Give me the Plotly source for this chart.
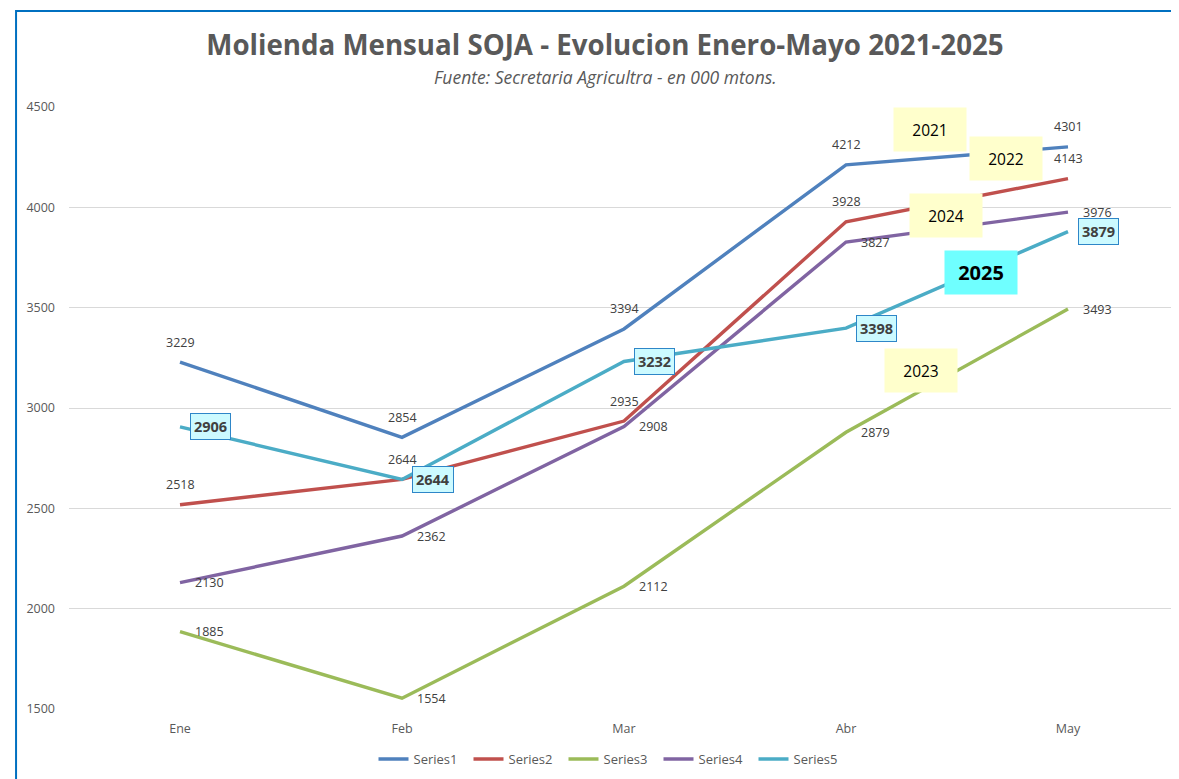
import plotly.graph_objects as go

meses = ["Ene", "Feb", "Mar", "Abr", "May"]
series_names = ["Series1", "Series2", "Series3", "Series4", "Series5"]
s2021 = [3229, 2854, 3394, 4212, 4301]
s2022 = [2518, 2644, 2935, 3928, 4143]
s2023 = [1885, 1554, 2112, 2879, 3493]
s2024 = [2130, 2362, 2908, 3827, 3976]
s2025 = [2906, 2644, 3232, 3398, 3879]
colores = ["#4F81BD", "#C0504D", "#9BBB59", "#8064A2", "#4BACC6"]

FONT = "Open Sans"
GRIS = "#404040"

# la pagina html deja 8px de margen, el grafico se dibuja 8px menos
W, H = 1171, 771

fig = go.Figure()
todas = [s2021, s2022, s2023, s2024, s2025]
for nombre, vals, col in zip(series_names, todas, colores):
    fig.add_trace(go.Scatter(x=meses, y=vals, name=nombre, mode="lines",
                             line=dict(color=col, width=3.4), hoverinfo="x+y"))

# etiquetas de datos (estilo excel)
ann = []
for serie, pos in [(s2021, "top"), (s2022, "top"), (s2023, "right"), (s2024, "right")]:
    for m, v in zip(meses, serie):
        if pos == "top":
            ann.append(dict(x=m, y=v, text=str(v), showarrow=False, yshift=20,
                            font=dict(family=FONT, size=12.5, color=GRIS)))
        else:
            ann.append(dict(x=m, y=v, text=str(v), showarrow=False, xanchor="left", xshift=13,
                            font=dict(family=FONT, size=12.5, color=GRIS)))
for m, v in zip(meses, s2025):
    ann.append(dict(x=m, y=v, text="<b>%d</b>" % v, showarrow=False, xanchor="left", xshift=10,
                    bgcolor="#CCFAFF", bordercolor="#2E86C8", borderwidth=1, borderpad=3,
                    font=dict(family=FONT, size=14.5, color=GRIS)))

# cajas con los años
anios = [("2021", 3.38, 4390, "#FFFFCC", False), ("2022", 3.72, 4241, "#FFFFCC", False),
         ("2024", 3.45, 3957, "#FFFFCC", False), ("2023", 3.34, 3189, "#FFFFCC", False),
         ("2025", 3.61, 3673, "#6FFFFF", True)]
for t, xx, yy, bg, negrita in anios:
    ann.append(dict(x=xx, y=yy, xref="x", yref="y", text="<b>%s</b>" % t if negrita else t,
                    showarrow=False, bgcolor=bg, width=72, height=43, borderpad=0,
                    font=dict(family=FONT, size=20 if negrita else 15.5, color="black")))

ann.append(dict(x=(605 - 69) / 1110, y=(709 - 77) / 602, xref="paper", yref="paper",
                xanchor="center", yanchor="middle", showarrow=False,
                text="<i>Fuente: Secretaria Agricultra - en 000 mtons.</i>",
                font=dict(family=FONT, size=17.5, color="#595959")))

fig.update_layout(
    width=W, height=H,
    paper_bgcolor="white", plot_bgcolor="white",
    margin=dict(l=61, r=0, t=99, b=70),
    title=dict(text="<b>Molienda Mensual SOJA - Evolucion Enero-Mayo 2021-2025</b>",
               x=(605 - 8) / W, xanchor="center", y=1 - (45 - 8) / H, yanchor="middle",
               yref="container", font=dict(family=FONT, size=27.7, color="#595959")),
    xaxis=dict(range=[-0.5, 4.5], showgrid=False, showline=False, ticks="", zeroline=False,
               ticklabelstandoff=10, tickfont=dict(family=FONT, size=12.5, color="#595959")),
    yaxis=dict(range=[1500, 4500], dtick=500, showgrid=True, gridcolor="#D9D9D9", gridwidth=1,
               zeroline=False, showline=False, ticks="", ticklabelstandoff=13,
               tickfont=dict(family=FONT, size=12.5, color="#595959")),
    legend=dict(orientation="h", xref="container", yref="container", x=(611 - 8) / W,
                y=1 - (759 - 8) / H, xanchor="center", yanchor="middle",
                entrywidth=50, entrywidthmode="pixels",
                font=dict(family=FONT, size=13, color="#595959")),
    annotations=ann,
    shapes=[dict(type="rect", xref="paper", yref="paper", x0=-0.0477, x1=1.2, y0=-0.3, y1=1.1595,
                 line=dict(color="#0070C0", width=2), layer="below")],
)

fig.write_html("out.html")
